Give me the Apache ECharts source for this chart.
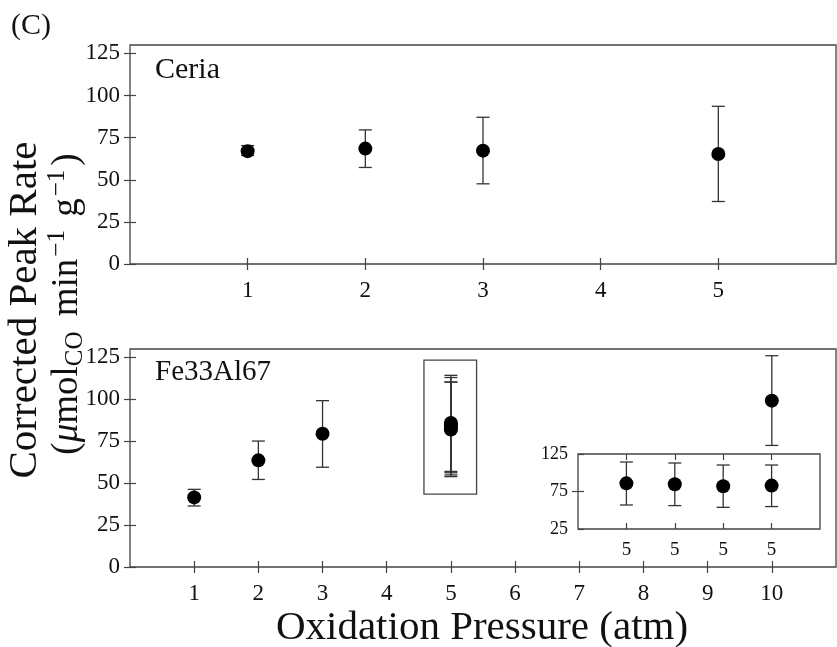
<!DOCTYPE html>
<html>
<head>
<meta charset="utf-8">
<script src="https://cdn.jsdelivr.net/npm/echarts@6/dist/echarts.min.js"></script>
<style>
  html, body { margin: 0; padding: 0; background: #fff; }
  #main { width: 837px; height: 647px; }
</style>
</head>
<body>
<div id="main"></div>
<script>
// Ceria panel (top)
var ceriaX = [1, 2, 3, 5];
var ceriaY = [67, 68.5, 67.3, 65.3];
var ceriaLow = [64.4, 57.3, 47.6, 37.1];
var ceriaHigh = [70.3, 79.6, 87.1, 93.6];

// Fe33Al67 panel (bottom)
var feX = [1, 2, 3, 5, 5, 5, 5, 10];
var feY = [41.5, 63.6, 79.5, 85.9, 84.6, 82, 82.9, 99.2];
var feLow = [36.4, 52.2, 59.5, 57, 56.2, 53.9, 54.9, 72.5];
var feHigh = [46.3, 75.1, 99.2, 114.3, 113, 110.3, 110.3, 126];

// inset: the four repeats at 5 atm
var insetLabels = ['5', '5', '5', '5'];
var insetY = [85.9, 84.6, 82, 82.9];
var insetLow = [57, 56.2, 53.9, 54.9];
var insetHigh = [114.3, 113, 110.3, 110.3];

var yTicks = [0, 25, 50, 75, 100, 125];
var insetYTicks = [25, 75, 125];

var serif = '"Liberation Serif", "DejaVu Serif", serif';
var edge = '#444';

function pts(xs, ys) {
    return xs.map(function (x, i) { return [x, ys[i]]; });
}
function bars(xs, lo, hi) {
    return xs.map(function (x, i) { return [x, lo[i], hi[i]]; });
}

function errorBar(params, api) {
    var x = api.value(0);
    var top = api.coord([x, api.value(2)]);
    var bot = api.coord([x, api.value(1)]);
    var w = 6.5;
    var st = { stroke: '#333', lineWidth: 1.3 };
    return {
        type: 'group',
        children: [
            { type: 'line', shape: { x1: top[0], y1: top[1], x2: bot[0], y2: bot[1] }, style: st },
            { type: 'line', shape: { x1: top[0] - w, y1: top[1], x2: top[0] + w, y2: top[1] }, style: st },
            { type: 'line', shape: { x1: bot[0] - w, y1: bot[1], x2: bot[0] + w, y2: bot[1] }, style: st }
        ]
    };
}

function xAx(grid, min, max, pos, showLab, fontSize, custom, fmt) {
    return {
        type: 'value', gridIndex: grid, min: min, max: max, interval: 1, position: pos,
        axisLine: { show: false },
        splitLine: { show: false },
        axisTick: { show: true, inside: true, length: 6, lineStyle: { color: edge, width: 1.2 },
            customValues: custom },
        axisLabel: { show: showLab, customValues: custom, color: '#111', fontFamily: serif,
            fontSize: fontSize, margin: fontSize > 19 ? 15 : 12,
            formatter: fmt || function (v) { return String(v); } }
    };
}
function yAx(grid, min, max, pos, showLab, fontSize, custom) {
    return {
        type: 'value', gridIndex: grid, min: min, max: max, position: pos,
        axisLine: { show: false },
        splitLine: { show: false },
        axisTick: { show: true, inside: true, length: 6, lineStyle: { color: edge, width: 1.2 },
            customValues: custom },
        axisLabel: { show: showLab, customValues: custom, color: '#111', fontFamily: serif,
            fontSize: fontSize, margin: 10 }
    };
}

var chart = echarts.init(document.getElementById('main'));

var dot = { color: '#000', opacity: 1 };

var option = {
    animation: false,
    backgroundColor: '#fff',
    grid: [
        { left: 130, top: 45, width: 706, height: 219, show: true, borderColor: edge, borderWidth: 1.3, backgroundColor: 'transparent' },
        { left: 130, top: 349, width: 706, height: 218, show: true, borderColor: edge, borderWidth: 1.3, backgroundColor: 'transparent' },
        { left: 578, top: 454, width: 242, height: 75, show: true, borderColor: edge, borderWidth: 1.3, backgroundColor: 'transparent' }
    ],
    xAxis: [
        xAx(0, 0, 6, 'bottom', true, 23, [1, 2, 3, 4, 5]),
        xAx(0, 0, 6, 'top', false, 23, [1, 2, 3, 4, 5]),
        xAx(1, 0, 11, 'bottom', true, 23, [1, 2, 3, 4, 5, 6, 7, 8, 9, 10]),
        xAx(1, 0, 11, 'top', false, 23, [1, 2, 3, 4, 5, 6, 7, 8, 9, 10]),
        xAx(2, 0, 5, 'bottom', true, 19, [1, 2, 3, 4], function (v) { return insetLabels[v - 1]; }),
        xAx(2, 0, 5, 'top', false, 19, [1, 2, 3, 4])
    ],
    yAxis: [
        yAx(0, 0, 130, 'left', true, 23, yTicks),
        yAx(0, 0, 130, 'right', false, 23, yTicks),
        yAx(1, 0, 130, 'left', true, 23, yTicks),
        yAx(1, 0, 130, 'right', false, 23, yTicks),
        yAx(2, 25, 125, 'left', true, 18, insetYTicks),
        yAx(2, 25, 125, 'right', false, 18, [75])
    ],
    series: [
        { type: 'custom', xAxisIndex: 0, yAxisIndex: 0, renderItem: errorBar, data: bars(ceriaX, ceriaLow, ceriaHigh), z: 3 },
        { type: 'scatter', xAxisIndex: 0, yAxisIndex: 0, symbolSize: 14, itemStyle: dot, data: pts(ceriaX, ceriaY), z: 4 },
        { type: 'custom', xAxisIndex: 2, yAxisIndex: 2, renderItem: errorBar, data: bars(feX, feLow, feHigh), z: 3 },
        { type: 'scatter', xAxisIndex: 2, yAxisIndex: 2, symbolSize: 14, itemStyle: dot, data: pts(feX, feY), z: 4,
          markArea: {
              silent: true,
              itemStyle: { color: 'rgba(0,0,0,0)', borderColor: edge, borderWidth: 1.3 },
              data: [[{ coord: [4.58, 123.4] }, { coord: [5.4, 43.5] }]]
          } },
        { type: 'custom', xAxisIndex: 4, yAxisIndex: 4, renderItem: errorBar, data: bars([1, 2, 3, 4], insetLow, insetHigh), z: 3 },
        { type: 'scatter', xAxisIndex: 4, yAxisIndex: 4, symbolSize: 14, itemStyle: dot, data: pts([1, 2, 3, 4], insetY), z: 4 }
    ],
    graphic: [
        { type: 'text', left: 11, top: 11, style: { text: '(C)', font: '30px ' + serif, fill: '#111' } },
        { type: 'text', left: 155, top: 55, style: { text: 'Ceria', font: '30px ' + serif, fill: '#111' } },
        { type: 'text', left: 155, top: 358, style: { text: 'Fe33Al67', font: '29px ' + serif, fill: '#111' } },
        { type: 'text', x: 482, y: 628, style: { text: 'Oxidation Pressure (atm)', font: '41px ' + serif, fill: '#111', align: 'center', verticalAlign: 'middle' } },
        { type: 'text', x: 25, y: 310, rotation: Math.PI / 2,
          style: { text: 'Corrected Peak Rate', font: '41px ' + serif, fill: '#111', align: 'center', verticalAlign: 'middle' } },
        { type: 'text', x: 67, y: 304, rotation: Math.PI / 2,
          style: {
              text: '{p|(}{mu|μ}{p|mol}{sub|CO}{p| min}{sup|−1}{p| g}{sup|−1}{p|)}',
              align: 'center', verticalAlign: 'middle', fill: '#111',
              rich: {
                  p: { font: '37px ' + serif, fill: '#111' },
                  mu: { font: 'italic 37px ' + serif, fill: '#111' },
                  sub: { font: '25px ' + serif, fill: '#111', padding: [16, 6, 0, 0] },
                  sup: { font: '25px ' + serif, fill: '#111', padding: [0, 4, 20, 2] }
              }
          } }
    ]
};

chart.setOption(option);
</script>
</body>
</html>
